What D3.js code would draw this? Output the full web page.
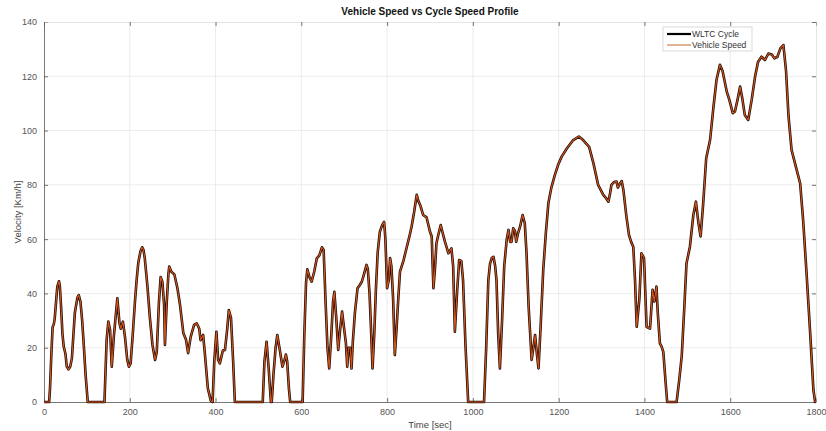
<!DOCTYPE html>
<html>
<head>
<meta charset="utf-8">
<script src="https://cdn.jsdelivr.net/npm/d3@7"></script>
<style>
  html, body { margin: 0; padding: 0; background: #fff; }
  svg { display: block; font-family: "Liberation Sans", Arial, Helvetica, sans-serif; }
</style>
</head>
<body>
<svg id="chart" width="826" height="431"></svg>
<script>
// WLTC drive cycle: time [s] and target speed [km/h]
const timeSec = [
  0, 11, 12, 14, 17, 20, 23, 25, 28, 31, 35, 37, 40, 43, 46, 50, 53, 57, 61, 65,
  72, 78, 81, 85, 89, 92, 97, 102, 141, 146, 150, 154, 158, 163, 167, 171, 176, 179, 184, 189,
  194, 198, 202, 207, 212, 216, 220, 225, 229, 232, 235, 241, 247, 253, 259, 263, 268, 272, 276, 280,
  282, 286, 290, 292, 297, 301, 304, 311, 317, 325, 331, 336, 342, 350, 356, 362, 365, 371, 375, 382,
  389, 393, 397, 402, 406, 410, 417, 422, 427, 431, 436, 441, 445, 510, 514, 519, 524, 529, 531, 535,
  540, 544, 550, 556, 560, 564, 567, 571, 574, 603, 607, 611, 614, 619, 624, 630, 636, 642, 648, 652,
  657, 661, 665, 670, 674, 677, 681, 686, 690, 695, 699, 704, 707, 710, 714, 717, 720, 725, 731, 736,
  741, 746, 752, 755, 759, 763, 766, 770, 774, 778, 783, 788, 793, 796, 800, 804, 807, 810, 814, 818,
  822, 826, 830, 838, 846, 852, 857, 863, 869, 873, 877, 884, 892, 900, 904, 908, 912, 915, 920, 925,
  930, 935, 943, 950, 954, 958, 963, 968, 973, 977, 983, 989, 1026, 1031, 1036, 1040, 1044, 1048, 1052, 1055,
  1059, 1063, 1068, 1073, 1079, 1083, 1087, 1090, 1094, 1098, 1101, 1105, 1110, 1116, 1121, 1125, 1130, 1137, 1141, 1145,
  1149, 1153, 1158, 1164, 1170, 1176, 1183, 1191, 1199, 1207, 1219, 1234, 1247, 1257, 1271, 1281, 1292, 1304, 1311, 1316,
  1320, 1323, 1329, 1335, 1338, 1343, 1347, 1351, 1358, 1364, 1369, 1374, 1378, 1382, 1388, 1393, 1399, 1405, 1413, 1419,
  1423, 1428, 1431, 1436, 1440, 1444, 1449, 1453, 1475, 1481, 1487, 1493, 1498, 1506, 1514, 1520, 1526, 1531, 1537, 1544,
  1553, 1561, 1568, 1576, 1582, 1592, 1598, 1606, 1611, 1617, 1623, 1628, 1634, 1642, 1650, 1658, 1665, 1673, 1681, 1689,
  1697, 1703, 1710, 1717, 1724, 1730, 1736, 1743, 1753, 1763, 1770, 1778, 1786, 1794, 1798, 1800
];

const cycleSpeed = [
  0, 0, 0, 5, 17, 27.5, 28.8, 30.8, 36.6, 42.5, 44.5, 42.7, 34.6, 25.1, 20.4, 17.8, 13.1, 12.0, 13, 16,
  33, 38.5, 39.4, 37, 30, 22.8, 10, 0, 0, 22.8, 29.6, 26.6, 13, 24.4, 31.4, 38.2, 29, 27, 29.6, 23.7,
  15.7, 13, 14.2, 25, 36.8, 45, 51.5, 55.5, 57, 56, 52.9, 43, 30.8, 21, 15.5, 18.5, 36.8, 46, 44.3, 36,
  21, 36.2, 47, 49.9, 48, 47.4, 47, 42, 36, 25.3, 23, 18, 24, 28.4, 29, 27, 22.8, 24.7, 18, 5,
  0.5, 0, 15, 25.9, 15.5, 14.2, 19, 19.2, 26.6, 33.9, 31, 15, 0, 0, 15, 22.2, 12, 0, 0, 10,
  20, 24.7, 19, 13, 15, 17.5, 15, 5, 0, 0, 25, 44, 48.9, 46, 44.3, 48, 52.9, 54, 57, 56,
  35, 20, 12.4, 25, 37, 40.6, 32, 19.2, 26, 33.3, 28, 21.6, 13, 20, 20, 12.4, 22, 33, 41.9, 43,
  44.3, 47, 50.5, 49, 40, 25, 12.4, 25, 42, 55, 62.7, 65, 66.4, 60, 41.9, 45, 53, 50, 38, 17.3,
  27, 38, 48, 52, 57.2, 61, 64.6, 70, 76.3, 74, 72.6, 68.9, 68, 62.7, 61, 41.9, 50, 58.5, 62, 65.2,
  62, 59, 54.8, 56.6, 50, 25.9, 40, 52.3, 52, 45, 20, 0, 0, 20, 45, 51, 53, 53.5, 50, 45,
  25, 12.4, 30, 50, 60, 63.4, 59, 59, 64, 63, 59, 62, 64.6, 68.9, 65.8, 55, 35, 15.5, 20, 24.7,
  18, 12.4, 28, 48.6, 62, 73.2, 79, 83.6, 87.5, 90.4, 93.4, 96.5, 97.8, 96.5, 94, 88, 80, 76.3, 75, 73.8,
  77, 80, 81, 81.2, 79, 80.5, 81.4, 78, 68.3, 61.5, 59, 57.2, 45, 27.7, 37.6, 54.8, 53, 27.7, 27, 41.3,
  37, 42.5, 33, 21.6, 20.4, 18.5, 8, 0, 0, 8, 17, 35, 51, 57.2, 68.9, 73.8, 65.8, 61, 73.2, 89.8,
  96.5, 108.8, 118.6, 124.2, 122, 114.3, 111.3, 106.4, 107, 111.3, 116.2, 112, 105.7, 103.9, 111.3, 119.9, 125.4, 127.2, 126, 128.4,
  128, 126.6, 127.2, 130.3, 131.5, 122.3, 105.1, 92.9, 86.7, 80.6, 67, 47.4, 26.5, 4.4, 0, 0
];

// Measured vehicle speed [km/h], tracking the cycle
const vehicleSpeed = [
  0, 0, 0, 5, 17, 27.5, 28.8, 30.8, 36.6, 42.5, 44.5, 42.7, 34.6, 25.1, 20.4, 17.8, 13.1, 12.0, 13, 16,
  33, 38.5, 39.4, 37, 30, 22.8, 10, 0, 0, 22.8, 29.6, 26.6, 13, 24.4, 31.4, 38.2, 29, 27, 29.6, 23.7,
  15.7, 13, 14.2, 25, 36.8, 45, 51.5, 55.5, 57, 56, 52.9, 43, 30.8, 21, 15.5, 18.5, 36.8, 46, 44.3, 36,
  21, 36.2, 47, 49.9, 48, 47.4, 47, 42, 36, 25.3, 23, 18, 24, 28.4, 29, 27, 22.8, 24.7, 18, 5,
  0.5, 0, 15, 25.9, 15.5, 14.2, 19, 19.2, 26.6, 33.9, 31, 15, 0, 0, 15, 22.2, 12, 0, 0, 10,
  20, 24.7, 19, 13, 15, 17.5, 15, 5, 0, 0, 25, 44, 48.9, 46, 44.3, 48, 52.9, 54, 57, 56,
  35, 20, 12.4, 25, 37, 40.6, 32, 19.2, 26, 33.3, 28, 21.6, 13, 20, 20, 12.4, 22, 33, 41.9, 43,
  44.3, 47, 50.5, 49, 40, 25, 12.4, 25, 42, 55, 62.7, 65, 66.4, 60, 41.9, 45, 53, 50, 38, 17.3,
  27, 38, 48, 52, 57.2, 61, 64.6, 70, 76.3, 74, 72.6, 68.9, 68, 62.7, 61, 41.9, 50, 58.5, 62, 65.2,
  62, 59, 54.8, 56.6, 50, 25.9, 40, 52.3, 52, 45, 20, 0, 0, 20, 45, 51, 53, 53.5, 50, 45,
  25, 12.4, 30, 50, 60, 63.4, 59, 59, 64, 63, 59, 62, 64.6, 68.9, 65.8, 55, 35, 15.5, 20, 24.7,
  18, 12.4, 28, 48.6, 62, 73.2, 79, 83.6, 87.5, 90.4, 93.4, 96.5, 97.8, 96.5, 94, 88, 80, 76.3, 75, 73.8,
  77, 80, 81, 81.2, 79, 80.5, 81.4, 78, 68.3, 61.5, 59, 57.2, 45, 27.7, 37.6, 54.8, 53, 27.7, 27, 41.3,
  37, 42.5, 33, 21.6, 20.4, 18.5, 8, 0, 0, 8, 17, 35, 51, 57.2, 68.9, 73.8, 65.8, 61, 73.2, 89.8,
  96.5, 108.8, 118.6, 124.2, 122, 114.3, 111.3, 106.4, 107, 111.3, 116.2, 112, 105.7, 103.9, 111.3, 119.9, 125.4, 127.2, 126, 128.4,
  128, 126.6, 127.2, 130.3, 131.5, 122.3, 105.1, 92.9, 86.7, 80.6, 67, 47.4, 26.5, 4.4, 0, 0
];

const xTicks = [0, 200, 400, 600, 800, 1000, 1200, 1400, 1600, 1800];
const yTicks = [0, 20, 40, 60, 80, 100, 120, 140];
const seriesNames = ["WLTC Cycle", "Vehicle Speed"];

const svg = d3.select("#chart");
const plot = { left: 44, right: 816, top: 22, bottom: 402 };

const x = d3.scaleLinear().domain([0, 1800]).range([plot.left, plot.right]);
const y = d3.scaleLinear().domain([0, 140]).range([plot.bottom, plot.top]);
const plain = d3.format("d");

// grid
const grid = svg.append("g").attr("class", "grid");
grid.selectAll("line.gx").data(xTicks.slice(1, -1)).join("line")
  .attr("x1", d => x(d)).attr("x2", d => x(d))
  .attr("y1", plot.top).attr("y2", plot.bottom)
  .attr("stroke", "#e6e6e6").attr("stroke-width", 0.8);
grid.selectAll("line.gy").data(yTicks.slice(1, -1)).join("line")
  .attr("y1", d => y(d)).attr("y2", d => y(d))
  .attr("x1", plot.left).attr("x2", plot.right)
  .attr("stroke", "#e6e6e6").attr("stroke-width", 0.8);

// axes (ticks point inward)
const axisColor = "#555";
const xAxis = svg.append("g").attr("transform", `translate(0,${plot.bottom})`)
  .call(d3.axisBottom(x).tickValues(xTicks).tickFormat(plain).tickSizeInner(-4).tickSizeOuter(0).tickPadding(7));
const yAxis = svg.append("g").attr("transform", `translate(${plot.left},0)`)
  .call(d3.axisLeft(y).tickValues(yTicks).tickFormat(plain).tickSizeInner(-4).tickSizeOuter(0).tickPadding(7));
const xTop = svg.append("g").attr("transform", `translate(0,${plot.top})`)
  .call(d3.axisTop(x).tickValues(xTicks).tickSizeInner(-4).tickSizeOuter(0).tickFormat(""));
const yRight = svg.append("g").attr("transform", `translate(${plot.right},0)`)
  .call(d3.axisRight(y).tickValues(yTicks).tickSizeInner(-4).tickSizeOuter(0).tickFormat(""));

[xAxis, yAxis].forEach(g => {
  g.select(".domain").attr("stroke", axisColor).attr("stroke-width", 0.8);
  g.selectAll(".tick line").attr("stroke", axisColor).attr("stroke-width", 0.8);
  g.selectAll(".tick text").attr("fill", "#555").attr("font-size", 9)
    .attr("font-family", "\"Liberation Sans\", Arial, sans-serif");
});
[xTop, yRight].forEach(g => {
  g.select(".domain").attr("stroke", "#d4d4d4").attr("stroke-width", 0.6);
  g.selectAll(".tick line").attr("stroke", axisColor).attr("stroke-width", 0.8);
});

// speed traces
const line = d3.line().x((d, i) => x(timeSec[i])).y(d => y(d));
svg.append("path").datum(cycleSpeed)
  .attr("d", line).attr("fill", "none")
  .attr("stroke", "#1a0d08").attr("stroke-width", 2.6).attr("stroke-linejoin", "round");
svg.append("path").datum(vehicleSpeed)
  .attr("d", line).attr("fill", "none")
  .attr("stroke", "#D95319").attr("stroke-width", 1.1).attr("stroke-linejoin", "round");

// title and labels
svg.append("text").attr("x", 430).attr("y", 15).attr("text-anchor", "middle")
  .attr("font-size", 10).attr("font-weight", "bold").attr("fill", "#111")
  .text("Vehicle Speed vs Cycle Speed Profile");
svg.append("text").attr("x", 430).attr("y", 428).attr("text-anchor", "middle")
  .attr("font-size", 9.5).attr("fill", "#444").text("Time [sec]");
svg.append("text").attr("transform", "translate(21,212) rotate(-90)").attr("text-anchor", "middle")
  .attr("font-size", 9.5).attr("fill", "#444").text("Velocity [Km/h]");

// legend
const lg = svg.append("g").attr("transform", "translate(663,27)");
lg.append("rect").attr("width", 89).attr("height", 24)
  .attr("fill", "#fff").attr("stroke", "#d0d0d0").attr("stroke-width", 0.8);
const legendStyles = [
  { color: "#000", width: 2.2 },
  { color: "#d9a37a", width: 1.6 }
];
seriesNames.forEach((name, i) => {
  const yy = 7 + i * 11;
  lg.append("line").attr("x1", 4).attr("x2", 28).attr("y1", yy).attr("y2", yy)
    .attr("stroke", legendStyles[i].color).attr("stroke-width", legendStyles[i].width);
  lg.append("text").attr("x", 29).attr("y", yy + 3).attr("font-size", 8.5).attr("fill", "#333").text(name);
});
</script>
</body>
</html>
